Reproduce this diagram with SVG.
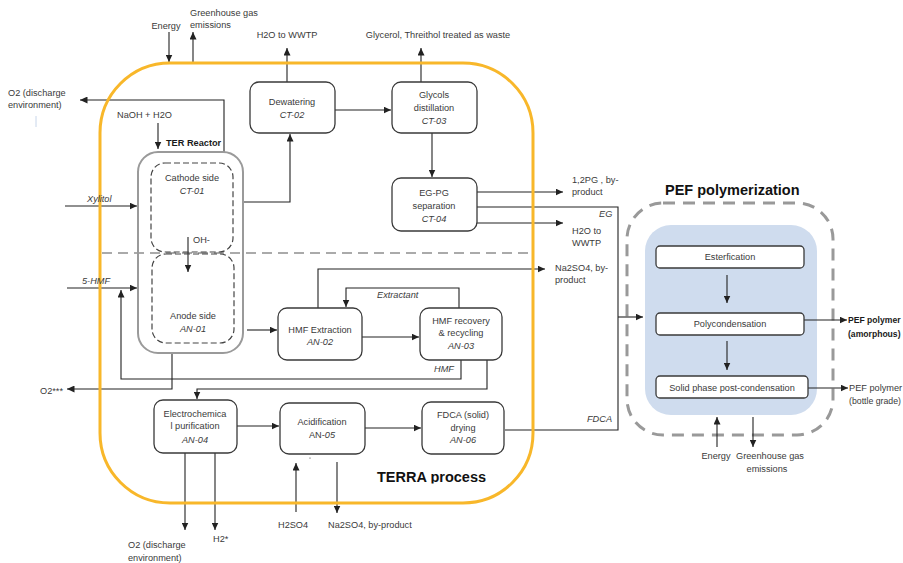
<svg xmlns="http://www.w3.org/2000/svg" width="903" height="563" viewBox="0 0 903 563">
<defs>
<style>
text{font-family:"Liberation Sans",Arial,sans-serif;font-size:9.2px;fill:#3a3a3a}
.c{text-anchor:middle}
.i{font-style:italic}
.b{font-weight:bold;fill:#1a1a1a}
.bs{font-weight:bold;fill:#1a1a1a;font-size:8.6px}
.big{font-weight:bold;font-size:14.5px;fill:#111}
.box{fill:#fff;stroke:#3a3a3a;stroke-width:1.3}
.dbox{fill:none;stroke:#444;stroke-width:1.2;stroke-dasharray:6 3}
.ln{fill:none;stroke:#222;stroke-width:1.1}
.ar{marker-end:url(#ah)}
</style>
<marker id="ah" markerUnits="userSpaceOnUse" markerWidth="8" markerHeight="7" refX="7.5" refY="3.5" orient="auto">
<path d="M0,0 L7.5,3.5 L0,7 z" fill="#222"/>
</marker>
<clipPath id="clipT"><rect x="0" y="0" width="903" height="483.5"/></clipPath>
</defs>
<rect width="903" height="563" fill="#fff"/>

<g id="background">
<line x1="36" y1="116" x2="36" y2="127" stroke="#c8d6ea" stroke-width="1"/>
<line x1="102" y1="253" x2="533" y2="253" stroke="#aaa" stroke-width="2" stroke-dasharray="10 6"/>
<rect x="627" y="203" width="206" height="232" rx="36" fill="none" stroke="#999" stroke-width="3" stroke-dasharray="12 8"/>
<rect x="645" y="225" width="172" height="190" rx="26" fill="#cfdcee"/>
</g>

<g id="connectors">
<line class="ln ar" x1="169" y1="32" x2="169" y2="62"/>
<line class="ln ar" x1="193" y1="63" x2="193" y2="32"/>
<polyline class="ln ar" points="224,152 224,100 80,100"/>
<line class="ln ar" x1="158" y1="123" x2="158" y2="149"/>
<line class="ln ar" x1="65" y1="206" x2="137" y2="206"/>
<line class="ln ar" x1="67" y1="288" x2="137" y2="288"/>
<line class="ln ar" x1="188" y1="237" x2="188" y2="272"/>
<polyline class="ln ar" points="243,202 290,202 290,134"/>
<line class="ln ar" x1="287" y1="82" x2="287" y2="48"/>
<line class="ln ar" x1="335" y1="110" x2="391" y2="110"/>
<line class="ln ar" x1="421" y1="82" x2="421" y2="48"/>
<line class="ln ar" x1="432" y1="133" x2="432" y2="177"/>
<line class="ln ar" x1="477" y1="192" x2="563" y2="192"/>
<polyline class="ln" points="477,207 618,207 618,430 505,430"/>
<line class="ln ar" x1="618" y1="317" x2="643" y2="317"/>
<line class="ln ar" x1="477" y1="223" x2="563" y2="223"/>
<polyline class="ln ar" points="318,308 318,269 545,269"/>
<line class="ln ar" x1="247" y1="330" x2="277" y2="330"/>
<line class="ln ar" x1="362" y1="337" x2="419" y2="337"/>
<polyline class="ln ar" points="459,308 459,288 346,288 346,307"/>
<polyline class="ln ar" points="461,360 461,379 121,379 121,290"/>
<polyline class="ln ar" points="487,360 487,389 197,389 197,399"/>
<polyline class="ln ar" points="172,353 172,389 67,389"/>
<line class="ln ar" x1="237" y1="426" x2="279" y2="426"/>
<line class="ln ar" x1="365" y1="428" x2="421" y2="428"/>
<line class="ln ar" x1="185" y1="453" x2="185" y2="530"/>
<line class="ln ar" x1="215" y1="453" x2="215" y2="530"/>
<line class="ln ar" x1="296" y1="512" x2="296" y2="463"/>
<line class="ln ar" x1="337" y1="462" x2="337" y2="513"/>
<line class="ln ar" x1="727" y1="275" x2="727" y2="303"/>
<line class="ln ar" x1="727" y1="341" x2="727" y2="370"/>
<line class="ln ar" x1="804" y1="320" x2="847" y2="320"/>
<line class="ln ar" x1="808" y1="388" x2="848" y2="388"/>
<line class="ln ar" x1="717" y1="447" x2="717" y2="417"/>
<line class="ln ar" x1="753" y1="417" x2="753" y2="447"/>
<circle cx="310" cy="458" r="0.6" fill="#333"/>
</g>

<g id="terra-boundary">
<rect x="100" y="63" width="433" height="440" rx="70" fill="none" stroke="#f8b72a" stroke-width="3"/>
<text class="big" x="377" y="482" clip-path="url(#clipT)">TERRA process</text>
</g>

<g id="labels">
<text class="c" x="166" y="29">Energy</text>
<text x="190" y="16">Greenhouse gas</text>
<text x="190" y="28">emissions</text>
<text x="8" y="96">O2 (discharge</text>
<text x="8" y="108">environment)</text>
<text x="117" y="118">NaOH + H2O</text>
<text class="c" x="287" y="38">H2O to WWTP</text>
<text class="c" x="438" y="38">Glycerol, Threithol treated as waste</text>
<text x="572" y="183">1,2PG , by-</text>
<text x="572" y="195">product</text>
<text class="i" x="599" y="217">EG</text>
<text x="572" y="234">H2O to</text>
<text x="572" y="246">WWTP</text>
<text x="555" y="271">Na2SO4, by-</text>
<text x="555" y="283">product</text>
<text class="i" x="87" y="202">Xylitol</text>
<text class="i" x="82" y="284">5-HMF</text>
<text x="40" y="394">O2***</text>
<text class="i" x="377" y="298">Extractant</text>
<text class="i" x="434" y="372">HMF</text>
<text class="i" x="587" y="422">FDCA</text>
<text x="128" y="548">O2 (discharge</text>
<text x="128" y="561">environment)</text>
<text x="213" y="542">H2*</text>
<text x="278" y="528">H2SO4</text>
<text x="328" y="528">Na2SO4, by-product</text>
<text class="big" x="665" y="195">PEF polymerization</text>
<text class="bs" x="848" y="323">PEF polymer</text>
<text class="bs" x="848" y="337">(amorphous)</text>
<text x="849" y="391">PEF polymer</text>
<text x="849" y="404" textLength="52" lengthAdjust="spacingAndGlyphs">(bottle grade)</text>
<text class="c" x="716" y="459">Energy</text>
<text class="c" x="770" y="459">Greenhouse gas</text>
<text class="c" x="767" y="472">emissions</text>
</g>

<g id="ter-reactor">
<rect x="138" y="152" width="105" height="201" rx="20" fill="none" stroke="#9a9a9a" stroke-width="2"/>
<text class="b" x="166" y="146">TER Reactor</text>
</g>
<g id="ct-01">
<rect class="dbox" x="151" y="163" width="82" height="89" rx="14"/>
<text class="c" x="192" y="181">Cathode side</text>
<text class="c i" x="192" y="194">CT-01</text>
<text x="193" y="243">OH-</text>
</g>
<g id="an-01">
<rect class="dbox" x="152" y="254" width="82" height="89" rx="14"/>
<text class="c" x="193" y="319">Anode side</text>
<text class="c i" x="193" y="332">AN-01</text>
</g>
<g id="ct-02">
<rect class="box" x="250" y="82" width="85" height="51" rx="9"/>
<text class="c" x="292" y="105">Dewatering</text>
<text class="c i" x="292" y="118">CT-02</text>
</g>
<g id="ct-03">
<rect class="box" x="392" y="82" width="85" height="51" rx="9"/>
<text class="c" x="434" y="98">Glycols</text>
<text class="c" x="434" y="111">distillation</text>
<text class="c i" x="434" y="124">CT-03</text>
</g>
<g id="ct-04">
<rect class="box" x="392" y="178" width="85" height="53" rx="9"/>
<text class="c" x="434" y="196">EG-PG</text>
<text class="c" x="434" y="209">separation</text>
<text class="c i" x="434" y="222">CT-04</text>
</g>
<g id="an-02">
<rect class="box" x="278" y="308" width="84" height="52" rx="9"/>
<text class="c" x="320" y="333">HMF Extraction</text>
<text class="c i" x="320" y="345">AN-02</text>
</g>
<g id="an-03">
<rect class="box" x="420" y="308" width="82" height="52" rx="9"/>
<text class="c" x="461" y="324">HMF recovery</text>
<text class="c" x="461" y="336">&amp; recycling</text>
<text class="c i" x="461" y="349">AN-03</text>
</g>
<g id="an-04">
<rect class="box" x="154" y="400" width="83" height="53" rx="9"/>
<text class="c" x="195" y="417">Electrochemica</text>
<text class="c" x="195" y="429">l purification</text>
<text class="c i" x="195" y="443">AN-04</text>
</g>
<g id="an-05">
<rect class="box" x="280" y="403" width="85" height="51" rx="9"/>
<text class="c" x="322" y="425">Acidification</text>
<text class="c" x="322" y="438">AN-<tspan class="i">05</tspan></text>
</g>
<g id="an-06">
<rect class="box" x="422" y="402" width="82" height="52" rx="9"/>
<text class="c" x="463" y="418">FDCA (solid)</text>
<text class="c" x="463" y="431">drying</text>
<text class="c i" x="463" y="443">AN-06</text>
</g>
<g id="esterfication">
<rect class="box" x="656" y="246" width="148" height="22" rx="4"/>
<text class="c" x="730" y="260">Esterfication</text>
</g>
<g id="polycondensation">
<rect class="box" x="656" y="313" width="148" height="22" rx="4"/>
<text class="c" x="730" y="327">Polycondensation</text>
</g>
<g id="solid-phase">
<rect class="box" x="656" y="376" width="152" height="22" rx="4"/>
<text class="c" x="732" y="391">Solid phase post-condensation</text>
</g>
</svg>
